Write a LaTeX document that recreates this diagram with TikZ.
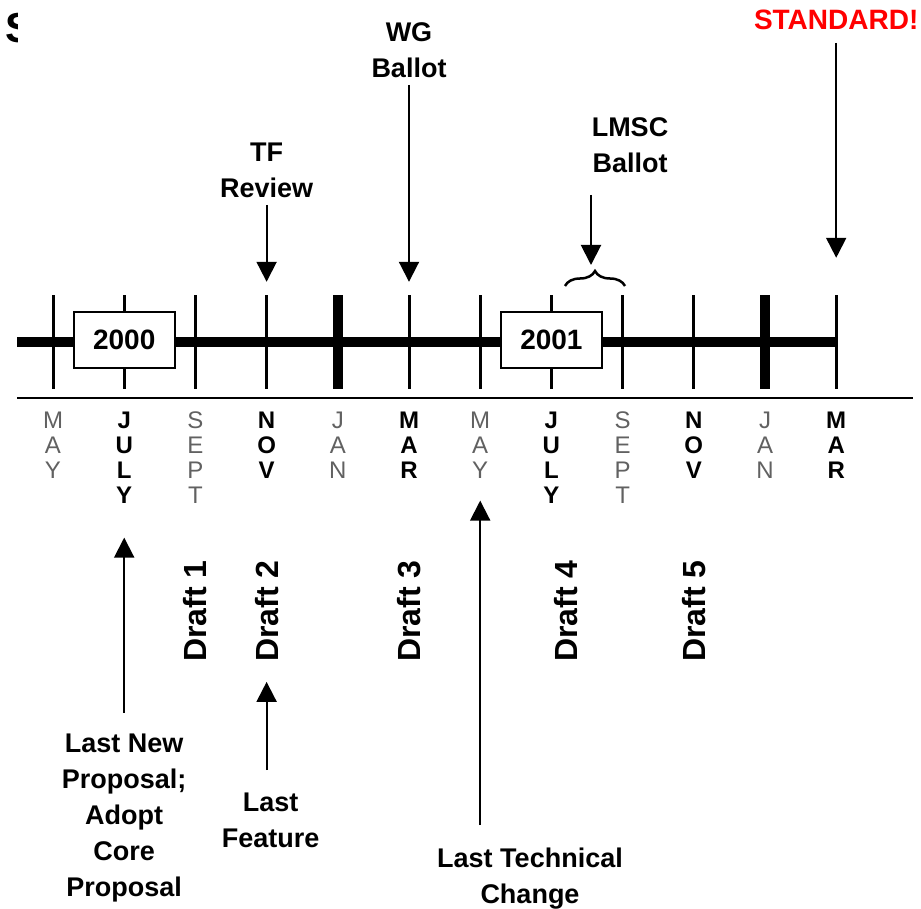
\documentclass[tikz,border=0pt]{standalone}
\usepackage{fontspec}
\setmainfont{Liberation Sans}
\usetikzlibrary{positioning, arrows.meta, decorations.pathreplacing}
\tikzset{
    >={Triangle[width=20pt,length=20pt]}, % big filled arrow heads
    monthtick/.style={fill, inner sep=0pt, minimum width=3pt, minimum height=93pt},
    jantick/.style={monthtick, minimum width=10pt}, % year boundary
    yearbox/.style={draw, line width=2pt, fill=white, minimum width=101pt, minimum height=55pt, font=\bfseries\fontsize{28}{30}\selectfont},
    month/.style={align=center, inner sep=0pt, text=black!62, font=\fontsize{24}{25}\selectfont},
    keymonth/.style={month, text=black, font=\bfseries\fontsize{24}{25}\selectfont},
    draft/.style={rotate=90, inner sep=0pt, font=\bfseries\fontsize{32}{36}\selectfont},
    lbl/.style={align=center, inner sep=0pt, font=\bfseries\fontsize{27}{36}\selectfont},
    pointer/.style={->, line width=2pt},
    curly/.style={decorate, decoration={brace, amplitude=15pt}, line width=2.5pt}
}

\begin{document}
\begin{tikzpicture}[x=1pt, y=1pt, node distance=71.2pt]
        \useasboundingbox (0,0) rectangle (921,-909);

        % letter cut off at the left edge
        \begin{scope}
            \clip (0,0) rectangle (17,-60);
            \node[anchor=base west, inner sep=0pt, font=\bfseries\fontsize{42}{42}\selectfont] (cut) at (5,-43) {S};
        \end{scope}

        % ticks
        \node[monthtick] (may1) at (53,-342) {};
        \node[monthtick] (jul1) [right of=may1] {};
        \node[monthtick] (sep1) [right of=jul1] {};
        \node[monthtick] (nov1) [right of=sep1] {};
        \node[jantick] (jan1) [right of=nov1] {};
        \node[monthtick] (mar1) [right of=jan1] {};
        \node[monthtick] (may2) [right of=mar1] {};
        \node[monthtick] (jul2) [right of=may2] {};
        \node[monthtick] (sep2) [right of=jul2] {};
        \node[monthtick] (nov2) [right of=sep2] {};
        \node[jantick] (jan2) [right of=nov2] {};
        \node[monthtick] (mar2) [right of=jan2] {};

        \coordinate (start) at (17,-342);
        \draw[line width=10pt] (start) -- (mar2);
        \coordinate (rulel) at (17,-398);
        \coordinate (ruler) at (913,-398);
        \draw[line width=2.5pt] (rulel) -- (ruler);

        \node[yearbox] (y2000) at ([yshift=2pt]jul1) {2000};
        \node[yearbox] (y2001) at ([yshift=2pt]jul2) {2001};

        % month names
        \node[month] (lmay1) [below=23pt of may1] {M\\A\\Y};
        \node[keymonth] (ljul1) [below=23pt of jul1] {J\\U\\L\\Y};
        \node[month] (lsep1) [below=23pt of sep1] {S\\E\\P\\T};
        \node[keymonth] (lnov1) [below=23pt of nov1] {N\\O\\V};
        \node[month] (ljan1) [below=23pt of jan1] {J\\A\\N};
        \node[keymonth] (lmar1) [below=23pt of mar1] {M\\A\\R};
        \node[month] (lmay2) [below=23pt of may2] {M\\A\\Y};
        \node[keymonth] (ljul2) [below=23pt of jul2] {J\\U\\L\\Y};
        \node[month] (lsep2) [below=23pt of sep2] {S\\E\\P\\T};
        \node[keymonth] (lnov2) [below=23pt of nov2] {N\\O\\V};
        \node[month] (ljan2) [below=23pt of jan2] {J\\A\\N};
        \node[keymonth] (lmar2) [below=23pt of mar2] {M\\A\\R};

        % drafts
        \coordinate (draftrow) at (0,-611);
        \node[draft] (d1) at (sep1 |- draftrow) {Draft 1};
        \node[draft] (d2) at (nov1 |- draftrow) {Draft 2};
        \node[draft] (d3) at (mar1 |- draftrow) {Draft 3};
        \node[draft] (d4) at (566,-611) {Draft 4};
        \node[draft] (d5) at (nov2 |- draftrow) {Draft 5};

        % milestones above
        \node[lbl] (wg) [above=217.5pt of mar1] {WG\\Ballot};
        \node[lbl] (tf) [above=97.5pt of nov1] {TF\\Review};
        \node[lbl, anchor=south] (lmsc) at (630,-173) {LMSC\\Ballot};
        \node[lbl, text=red, font=\bfseries\fontsize{28}{36}\selectfont] (std) [above=265.5pt of mar2] {STANDARD!};

        \draw[pointer, shorten <=7pt, shorten >=13.5pt] (wg) -- (mar1);
        \draw[pointer, shorten <=7pt, shorten >=13.5pt] (tf) -- (nov1);
        \draw[pointer, shorten <=13pt, shorten >=37.5pt] (std) -- (mar2);
        \coordinate (ltip) at (591,-265);
        \draw[pointer, shorten <=22pt] (lmsc.south -| ltip) -- (ltip);
        \coordinate (bl) at (565,-286);
        \coordinate (br) at (625,-286);
        \draw[curly] (bl) -- (br);

        % milestones below
        \node[lbl] (lnp) [below=230pt of ljul1] {Last New\\Proposal;\\Adopt\\Core\\Proposal};
        \node[lbl, anchor=north] (lf) at (270.6,-793) {Last\\Feature};
        \node[lbl, anchor=north] (ltc) at (530,-848) {Last Technical\\Change};

        \draw[pointer, shorten <=21pt, shorten >=34pt] (lnp) -- (ljul1);
        \draw[pointer, shorten <=23pt, shorten >=20pt] (lf.north -| d2) -- (d2);
        \draw[pointer, shorten <=23pt, shorten >=22pt] (ltc.north -| may2) -- (lmay2);
    \end{tikzpicture}
\end{document}
